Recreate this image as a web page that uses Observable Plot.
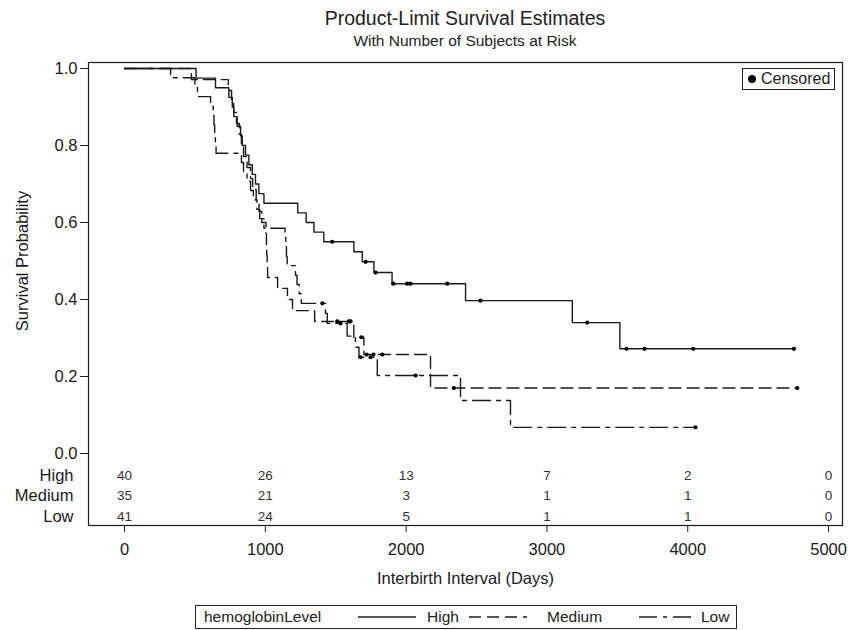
<!DOCTYPE html>
<html><head><meta charset="utf-8">
<script src="https://cdn.jsdelivr.net/npm/d3@7"></script>
<script src="https://cdn.jsdelivr.net/npm/@observablehq/plot@0.6"></script>
<style>
body{margin:0;background:#fff;}
#wrap{position:relative;width:848px;height:630px;font-family:"Liberation Sans",Arial,sans-serif;color:#222;overflow:hidden}
#title{position:absolute;left:88px;width:754px;top:9px;text-align:center;font-size:19.5px;line-height:1}
#subtitle{position:absolute;left:88px;width:754px;top:33px;text-align:center;font-size:15.5px;line-height:1}
#plot{position:absolute;left:0;top:0}
#cens{position:absolute;left:742px;top:68px;height:22px;border:1px solid #222;background:#fff;display:flex;align-items:center;padding:0 4px 0 5px;font-size:16px;box-sizing:border-box}
#cens .dot{width:8px;height:8px;border-radius:50%;background:#000;margin-right:5px}
#legend{position:absolute;left:195px;top:605px;width:542px;height:24px;border:1px solid #222;box-sizing:border-box;font-size:15.5px}
#legend > *{position:absolute;top:50%;transform:translateY(-50%);line-height:1}
</style></head>
<body><div id="wrap">
<div id="plot"></div>
<div id="title">Product-Limit Survival Estimates</div>
<div id="subtitle">With Number of Subjects at Risk</div>
<div id="cens"><span class="dot"></span>Censored</div>
<div id="legend"></div>
</div>
<script>
// ---- data ----
const groups = ["High", "Medium", "Low"];

// event times (days) and survival after each step
const highTimes = [0, 508, 646, 741, 765, 776, 800, 824, 836, 859, 883, 907, 930, 954, 990, 1230, 1290, 1345, 1415, 1629, 1688, 1771, 1900, 2422, 3180, 3518];
const highSurv  = [1, .975, .95, .925, .90, .875, .85, .825, .80, .775, .75, .725, .70, .675, .65, .625, .60, .575, .55, .524, .498, .47, .441, .397, .340, .272];
const highCensT = [1475, 1712, 1783, 1908, 2007, 2031, 2292, 2528, 3286, 3565, 3693, 4039, 4754];

const medTimes = [0, 475, 737, 760, 775, 795, 815, 830, 845, 870, 895, 910, 935, 955, 975, 1005, 1008, 1010, 1013, 1016, 1087, 1157, 1193, 1350, 1628, 1700, 2173];
const medSurv  = [1, .971, .943, .914, .886, .857, .829, .800, .771, .743, .714, .686, .657, .629, .600, .571, .543, .514, .486, .457, .429, .400, .371, .343, .302, .257, .170];
const medCensT = [1511, 1593, 1605, 1683, 1719, 1768, 1830, 2339, 4778];

const lowTimes = [0, 327, 500, 518, 611, 630, 635, 640, 645, 650, 830, 845, 870, 895, 915, 940, 960, 990, 1140, 1145, 1150, 1155, 1214, 1225, 1240, 1255, 1427, 1440, 1581, 1640, 1665, 1795, 2386, 2741];
const lowSurv  = [1, .976, .951, .927, .902, .878, .854, .829, .805, .780, .756, .732, .707, .683, .659, .634, .610, .585, .561, .537, .512, .488, .463, .439, .415, .390, .364, .338, .305, .276, .250, .2026, .1377, .068];
const lowCensT = [1405, 1534, 1676, 1747, 2067, 4055];

// number at risk table
const riskTimes  = [0, 1000, 2000, 3000, 4000, 5000];
const riskHigh   = [40, 26, 13, 7, 2, 0];
const riskMedium = [35, 21, 3, 1, 1, 0];
const riskLow    = [41, 24, 5, 1, 1, 0];

const yTicks = [0, 0.2, 0.4, 0.6, 0.8, 1.0];
const xTicks = [0, 1000, 2000, 3000, 4000, 5000];

// ---- build ----
function stepAt(times, surv, t) {
  let s = surv[0];
  for (let i = 0; i < times.length; i++) if (times[i] <= t) s = surv[i];
  return s;
}
function curve(times, surv, cens) {
  const pts = times.map((t, i) => ({t, s: surv[i]}));
  const end = Math.max(...cens, times[times.length - 1]);
  pts.push({t: end, s: surv[surv.length - 1]});
  return pts;
}
function censPts(times, surv, cens) {
  return cens.map(t => ({t, s: stepAt(times, surv, t)}));
}

const styles = {
  High:   {dash: null},
  Medium: {dash: "12,6"},
  Low:    {dash: "18,6,4,6"}
};
const series = [
  {g: "High",   line: curve(highTimes, highSurv, highCensT), cens: censPts(highTimes, highSurv, highCensT), risk: riskHigh},
  {g: "Medium", line: curve(medTimes, medSurv, medCensT),    cens: censPts(medTimes, medSurv, medCensT),    risk: riskMedium},
  {g: "Low",    line: curve(lowTimes, lowSurv, lowCensT),    cens: censPts(lowTimes, lowSurv, lowCensT),    risk: riskLow}
];

const ink = "#1a1a1a";
const marks = [];
series.forEach((s, i) => {
  marks.push(Plot.line(s.line, {x: "t", y: "s", curve: "step-after", stroke: ink, strokeWidth: 1.4,
    strokeDasharray: styles[s.g].dash || undefined}));
  marks.push(Plot.dot(s.cens, {x: "t", y: "s", r: 2.1, fill: "#000", stroke: "none"}));
  const rows = riskTimes.map((t, j) => ({t, n: s.risk[j]}));
  const dy = 22 + i * 20.5;
  marks.push(Plot.text(rows, {x: "t", y: () => 0, text: "n", dy, fontSize: 13.5, fill: "#333"}));
  marks.push(Plot.text([s.g], {frameAnchor: "left", y: () => 0, text: d => d, dy, dx: -15, textAnchor: "end", fontSize: 16.5, fill: ink}));
});

const chart = Plot.plot({
  width: 848, height: 600,
  marginTop: 62, marginLeft: 88, marginRight: 6, marginBottom: 75,
  style: {fontFamily: "'Liberation Sans', Arial, sans-serif", fontSize: "16.5px", color: ink, background: "#fff"},
  x: {domain: [-256, 5099]},
  y: {domain: [-0.187, 1.0156]},
  marks: [
    Plot.frame({stroke: ink, strokeWidth: 1.2}),
    Plot.axisX({ticks: xTicks, tickFormat: d3.format("d"), tickSize: 7, tickPadding: 11, label: null, stroke: ink}),
    Plot.axisY({ticks: yTicks, tickFormat: d3.format(".1f"), tickSize: 8, tickPadding: 3, label: null, stroke: ink}),
    Plot.text(["Survival Probability"], {frameAnchor: "left", y: () => 0.5, text: d => d, rotate: -90, dx: -66, textAnchor: "middle", fontSize: 16.5, fill: ink}),
    Plot.text(["Interbirth Interval (Days)"], {frameAnchor: "bottom", text: d => d, dy: 58, fontSize: 16.5, fill: ink}),
    ...marks
  ]
});
document.getElementById("plot").appendChild(chart);

// bottom legend (offsets inside the legend box)
const leg = document.getElementById("legend");
function addText(txt, left) {
  const el = document.createElement("span");
  el.textContent = txt;
  el.style.left = left + "px";
  leg.appendChild(el);
}
addText("hemoglobinLevel", 8);
const legendLayout = {High: {line: 162, text: 231}, Medium: {line: 273, text: 351}, Low: {line: 443, text: 505}};
groups.forEach(g => {
  const w = 58;
  const svg = d3.create("svg").attr("width", w).attr("height", 10).style("left", legendLayout[g].line + "px");
  svg.append("line").attr("x1", 0).attr("x2", w).attr("y1", 5).attr("y2", 5)
    .attr("stroke", ink).attr("stroke-width", 1.4)
    .attr("stroke-dasharray", styles[g].dash);
  leg.appendChild(svg.node());
  addText(g, legendLayout[g].text);
});
</script>
</body></html>
